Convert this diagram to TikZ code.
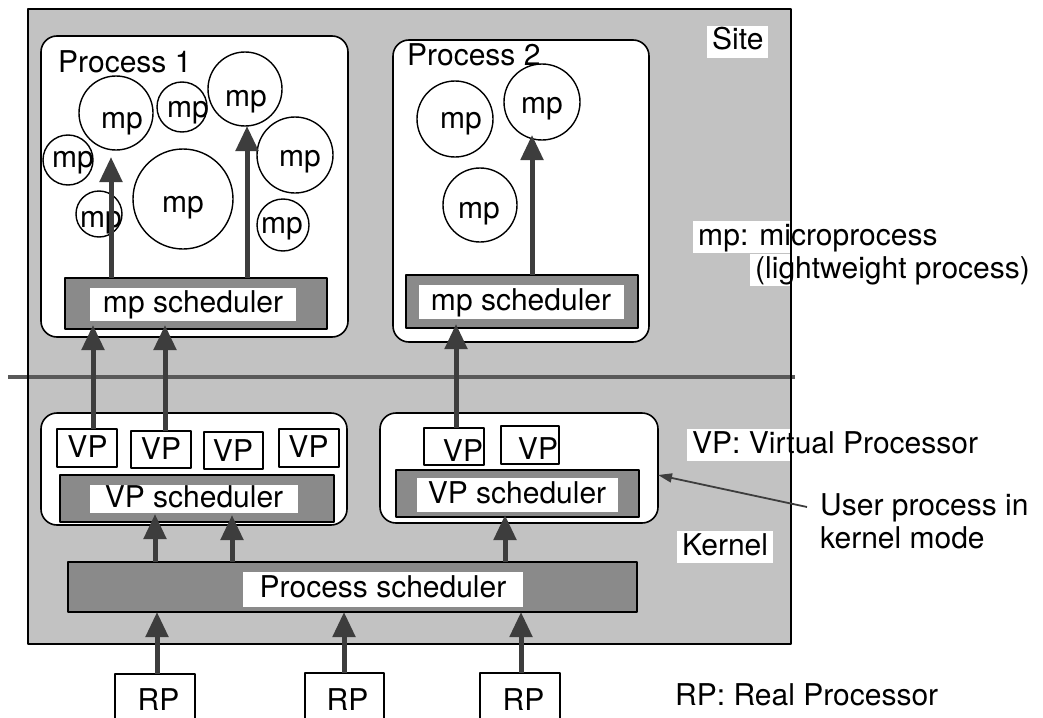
\documentclass[tikz,border=0pt]{standalone}
\usepackage{fontspec}
\setmainfont{TeX Gyre Heros}
\usetikzlibrary{arrows.meta,calc}

\definecolor{sitegray}{gray}{0.76}
\definecolor{schedgray}{gray}{0.54}
\definecolor{arrowgray}{gray}{0.24}
\definecolor{linegray}{gray}{0.35}

\tikzset{
  txt/.style={font=\fontsize{30}{34}\selectfont, inner sep=0pt,
              text height=22pt, text depth=6pt, anchor=base},
  lab/.style={txt, anchor=base west, fill=white, inner xsep=5pt, inner ysep=2pt},
  proc/.style={draw, fill=white, line width=1.6pt, rounded corners=16pt,
               inner sep=0pt, outer sep=0pt},
  sched/.style={draw, fill=schedgray, line width=1.6pt, inner sep=0pt, outer sep=0pt},
  hole/.style={txt, fill=white},
  unit/.style={draw, fill=white, line width=1.4pt, inner sep=0pt, outer sep=0pt},
  mp/.style={circle, draw, fill=white, line width=1.4pt, inner sep=0pt, outer sep=0pt},
  big/.style={draw=arrowgray, line width=5pt,
              -{Triangle[length=25pt,width=22pt]}, arrowgray},
  pointer/.style={draw=arrowgray, line width=1.8pt,
                  -{Triangle[length=14pt,width=9pt]}, arrowgray},
  divider/.style={draw=linegray, line width=4.5pt},
}

\begin{document}
\begin{tikzpicture}[x=1pt,y=-1pt,line join=round]
\useasboundingbox (0,0) rectangle (1043,717);

% the site area and the user/kernel divider
\node[fill=sitegray, inner sep=0pt, outer sep=0pt,
      minimum width=763pt, minimum height=635pt] (site) at (409.5,326.5) {};
\draw[divider] (8,377) -- (795,377);

% legend texts, cut out of the shaded area
\node[lab] (sitelbl) at (707,50) {Site};
\node[lab] (mplbl) at (693,245) {mp: microprocess};
\node[lab] (lwlbl) at (750,278) {(lightweight process)};
\node[lab] (vplbl) at (687,453) {VP: Virtual Processor};
\node[lab] (kernlbl) at (677,555) {Kernel};
\node[lab] (uplbl1) at (815,515) {User process in};
\node[lab] (uplbl2) at (815,548) {kernel mode};
\node[lab] (rplbl) at (670,705) {RP: Real Processor};

\draw[line width=1.8pt] (site.north west) rectangle (site.south east);

% processes in user mode
\node[proc, minimum width=307pt, minimum height=301pt] (p1) at (194.5,186.5) {};
\node[proc, minimum width=256pt, minimum height=302pt] (p2) at (521,191) {};
\node[txt, anchor=base west] (p1lbl) at (58,73) {Process 1};
\node[txt, anchor=base west] (p2lbl) at (407,66) {Process 2};

% microprocesses
\node[mp, minimum size=74pt]  (A) at (116,113) {};
\node[mp, minimum size=50pt]  (B) at (182,107) {};
\node[mp, minimum size=74pt]  (C) at (245,89) {};
\node[mp, minimum size=50pt]  (D) at (68,160) {};
\node[mp, minimum size=76pt]  (E) at (295,155) {};
\node[mp, minimum size=100pt] (F) at (183,199) {};
\node[mp, minimum size=46pt]  (G) at (99,214) {};
\node[mp, minimum size=52pt]  (H) at (283,225) {};
\node[mp, minimum size=76pt]  (I) at (455,119) {};
\node[mp, minimum size=76pt]  (J) at (542,102) {};
\node[mp, minimum size=74pt]  (K) at (480,205) {};

\node[txt] (At) at (122,128) {mp};
\node[txt] (Bt) at (188,117) {mp};
\node[txt] (Ct) at (246,106) {mp};
\node[txt] (Dt) at (73,167) {mp};
\node[txt] (Et) at (300,166) {mp};
\node[txt] (Ft) at (183,212) {mp};
\node[txt] (Gt) at (101,227) {mp};
\node[txt] (Ht) at (282,233) {mp};
\node[txt] (It) at (461,128) {mp};
\node[txt] (Jt) at (542,113) {mp};
\node[txt] (Kt) at (479,218) {mp};

% mp schedulers
\node[sched, minimum width=262pt, minimum height=51pt] (mps1) at (196,303.5) {};
\node[sched, minimum width=232pt, minimum height=53pt] (mps2) at (522,301.5) {};
\node[hole, minimum width=206pt, minimum height=33pt] (mps1t) at (193,312) {mp scheduler};
\node[hole, minimum width=205pt, minimum height=34pt] (mps2t) at (521,310) {mp scheduler};

% user processes in kernel mode
\node[proc, minimum width=306pt, minimum height=112pt] (u1) at (194,469) {};
\node[proc, minimum width=278pt, minimum height=110pt] (u2) at (519,468) {};

% virtual processors
\node[unit, minimum width=60pt, minimum height=38pt] (vp1) at (87,448) {};
\node[unit, minimum width=60pt, minimum height=37pt] (vp2) at (161,449.5) {};
\node[unit, minimum width=59pt, minimum height=37pt] (vp3) at (233.5,450.5) {};
\node[unit, minimum width=60pt, minimum height=38pt] (vp4) at (309,448) {};
\node[unit, minimum width=60pt, minimum height=37pt] (vp5) at (454,446.5) {};
\node[unit, minimum width=58pt, minimum height=38pt] (vp6) at (530,445) {};
\node[txt] (vp1t) at (87.5,457) {VP};
\node[txt] (vp2t) at (161,459) {VP};
\node[txt] (vp3t) at (233,461) {VP};
\node[txt] (vp4t) at (308.5,457) {VP};
\node[txt] (vp5t) at (463,461) {VP};
\node[txt] (vp6t) at (538,459) {VP};

% VP schedulers
\node[sched, minimum width=274pt, minimum height=47pt] (vps1) at (197,498.5) {};
\node[sched, minimum width=243pt, minimum height=47pt] (vps2) at (517.5,493.5) {};
\node[hole, minimum width=208pt, minimum height=28pt] (vps1t) at (194,507) {VP scheduler};
\node[hole, minimum width=201pt, minimum height=34pt] (vps2t) at (517,503) {VP scheduler};

% process scheduler
\node[sched, minimum width=569pt, minimum height=50pt] (ps) at (352.5,587) {};
\node[hole, minimum width=280pt, minimum height=35pt] (pst) at (383,597) {Process scheduler};

% real processors
\node[unit, minimum width=80pt, minimum height=47pt] (rp1) at (155,697.5) {};
\node[unit, minimum width=79pt, minimum height=47pt] (rp2) at (344.5,696.5) {};
\node[unit, minimum width=80pt, minimum height=47pt] (rp3) at (520,696.5) {};
\node[txt] (rp1t) at (158.5,710) {RP};
\node[txt] (rp2t) at (347.5,710) {RP};
\node[txt] (rp3t) at (523.5,710) {RP};

% scheduling arrows
\draw[big, shorten >=7pt] ([xshift=-85pt]mps1.north) -- ([xshift=-5pt]A.south);
\draw[big] ([xshift=51pt]mps1.north) -- ([xshift=2pt]C.south);
\draw[big, shorten >=-5pt] ([xshift=10pt]mps2.north) -- ([xshift=-10pt]J.south);

\draw[big, shorten >=-4pt] ([xshift=6pt]vp1.north) -- ([xshift=-103pt]mps1.south);
\draw[big, shorten >=-4pt] ([xshift=4pt]vp2.north) -- ([xshift=-31pt]mps1.south);
\draw[big, shorten >=-4pt] ([xshift=2pt]vp5.north) -- ([xshift=-66pt]mps2.south);

\draw[big, shorten >=-8pt] ([xshift=-197.5pt]ps.north) -- ([xshift=-42pt]vps1.south);
\draw[big, shorten >=-7pt] ([xshift=-120.5pt]ps.north) -- ([xshift=35pt]vps1.south);
\draw[big, shorten >=-2pt] ([xshift=152.5pt]ps.north) -- ([xshift=-12.5pt]vps2.south);

\draw[big] ([xshift=2pt]rp1.north) -- ([xshift=-195.5pt]ps.south);
\draw[big] ([xshift=-0.5pt]rp2.north) -- ([xshift=-8.5pt]ps.south);
\draw[big] ([xshift=1pt]rp3.north) -- ([xshift=168.5pt]ps.south);

% pointer to the user process in kernel mode
\coordinate (ptr) at (807,507);
\draw[pointer] (ptr) -- ([yshift=-7pt]u2.east);
\end{tikzpicture}
\end{document}
